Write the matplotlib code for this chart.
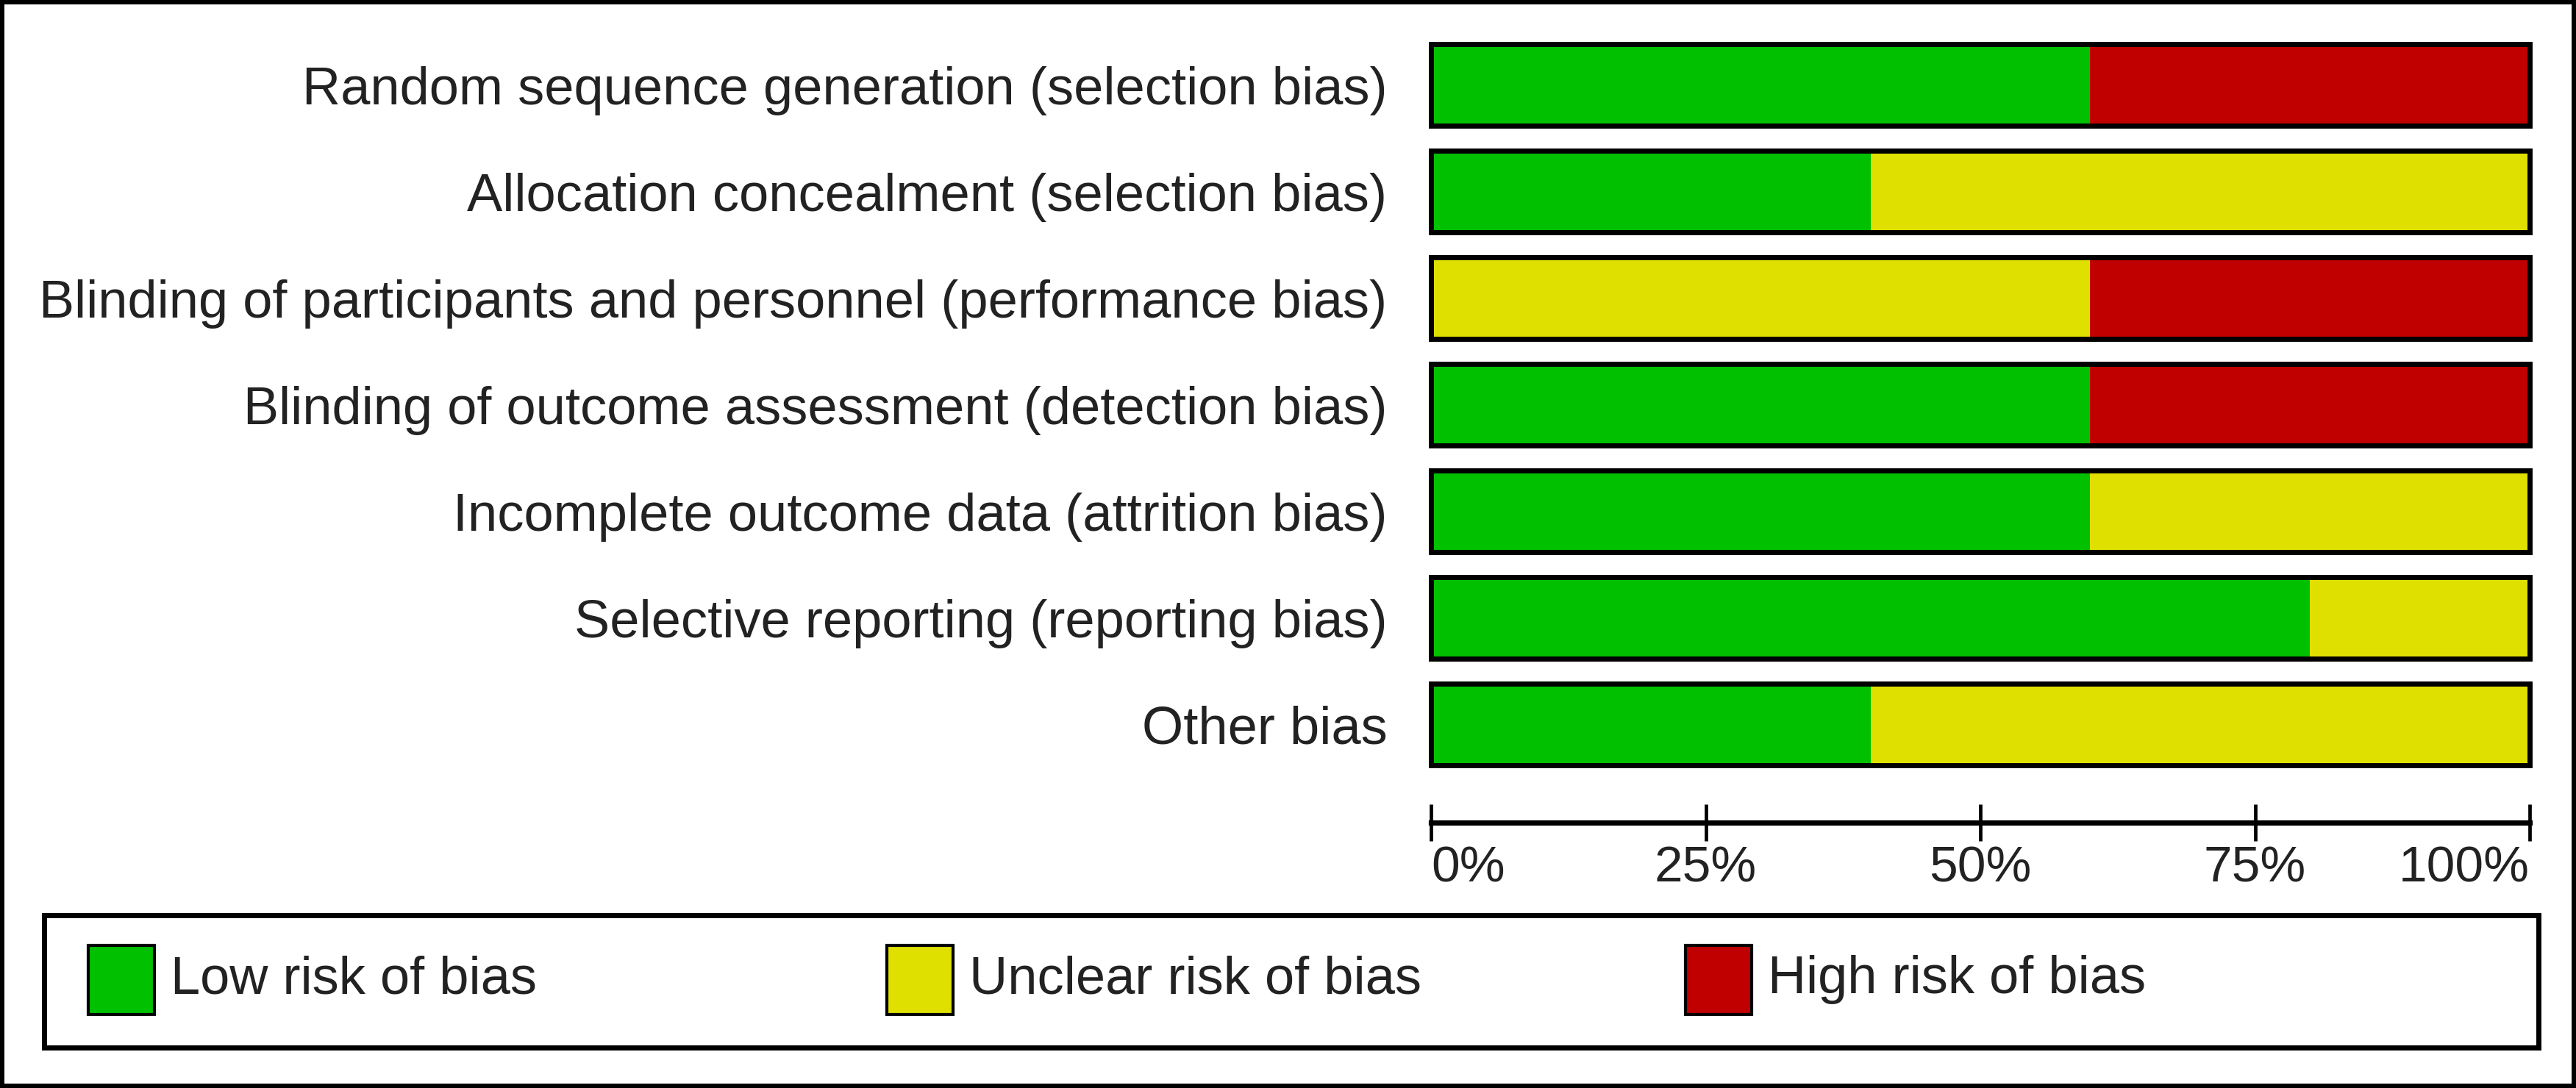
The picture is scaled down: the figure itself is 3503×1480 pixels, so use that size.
import numpy as np
import matplotlib
matplotlib.use("Agg")
import matplotlib.pyplot as plt
from matplotlib.patches import Rectangle

plt.rcParams['font.family'] = ['Liberation Sans', 'DejaVu Sans']

# risk of bias domains (top to bottom) and the share of studies per judgement (%)
domains = [
    "Random sequence generation (selection bias)",
    "Allocation concealment (selection bias)",
    "Blinding of participants and personnel (performance bias)",
    "Blinding of outcome assessment (detection bias)",
    "Incomplete outcome data (attrition bias)",
    "Selective reporting (reporting bias)",
    "Other bias",
]
low_risk = [60, 40, 0, 60, 60, 80, 40]
unclear_risk = [0, 60, 60, 0, 40, 20, 60]
high_risk = [40, 0, 40, 40, 0, 0, 0]

judgements = ["Low risk of bias", "Unclear risk of bias", "High risk of bias"]
colors = ["#00c000", "#e0e000", "#c00000"]
tick_vals = [0, 25, 50, 75, 100]
tick_labels = ["0%", "25%", "50%", "75%", "100%"]

txt = "#222222"
fs = 52

fig = plt.figure(figsize=(35.03, 14.80), dpi=100)
W, H = 3503, 1480

# main bar panel (pixel layout converted to figure fractions)
ax = fig.add_axes([1946 / W, 1 - 1058 / H, 1494 / W, 1015 / H])
rows = np.arange(len(domains))
lefts = np.zeros(len(domains))
for vals, col in zip([low_risk, unclear_risk, high_risk], colors):
    vals = np.array(vals, dtype=float)
    ax.barh(rows, vals, left=lefts, height=0.76, color=col, edgecolor='none')
    lefts += vals
# one black outline round each whole bar
ax.barh(rows, lefts, height=0.76, fill=False, edgecolor='black', linewidth=5, clip_on=False)

ax.set_xlim(0, 100)
ax.set_ylim(len(domains) - 0.5, -0.5)
ax.set_yticks(rows, domains)
ax.tick_params(axis='y', length=0, pad=43, labelsize=fs, labelcolor=txt)

for s in ['top', 'right', 'left']:
    ax.spines[s].set_visible(False)
ax.spines['bottom'].set_position(('outward', 43.6))
ax.spines['bottom'].set_linewidth(5.2)
ax.set_xticks(tick_vals, tick_labels)
ax.tick_params(axis='x', direction='inout', length=36.7, width=3.4, pad=4,
               labelsize=50, labelcolor=txt)
xl = ax.get_xticklabels()
xl[0].set_ha('left')
xl[-1].set_ha('right')
ax.set_facecolor('none')

# legend box
lax = fig.add_axes([60 / W, 1 - 1425 / H, 3392 / W, 180 / H])
lax.set_xlim(60, 3452)
lax.set_ylim(1425, 1245)
lax.set_xticks([])
lax.set_yticks([])
for s in lax.spines.values():
    s.set_linewidth(5)
for i, (lab, col) in enumerate(zip(judgements, colors)):
    x0 = 120 + i * 1086
    lax.add_patch(Rectangle((x0, 1286), 90, 94, facecolor=col, edgecolor='black', linewidth=3))
    lax.text(x0 + 112, 1333, lab, fontsize=fs, color=txt, va='center', ha='left')

# outer frame of the picture
fig.patches.append(Rectangle((0, 0), 1, 1, transform=fig.transFigure, fill=False,
                             edgecolor='black', linewidth=8.6))

fig.savefig("out.png", dpi=100, facecolor='white')
